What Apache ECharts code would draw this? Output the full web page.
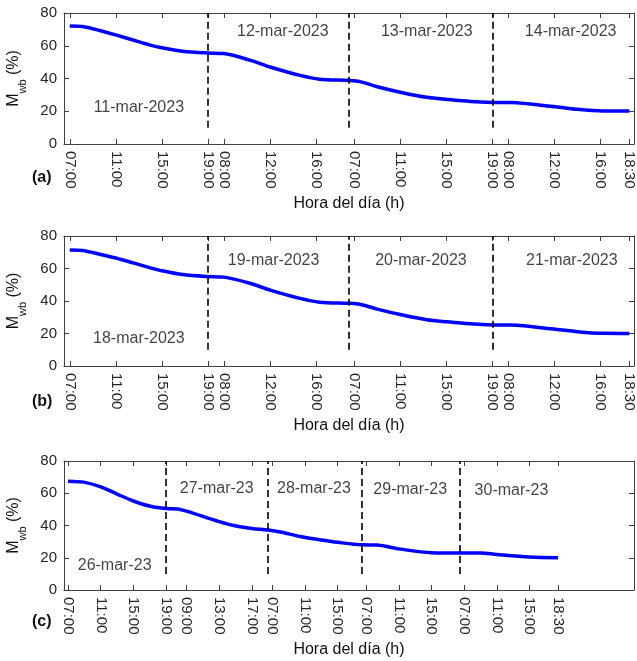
<!DOCTYPE html>
<html>
<head>
<meta charset="utf-8">
<script src="https://cdn.jsdelivr.net/npm/echarts@6/dist/echarts.min.js"></script>
<style>
  html, body { margin: 0; padding: 0; background: #fff; }
  #chart { width: 637px; height: 661px; }
</style>
</head>
<body>
<div id="chart"></div>
<script>
// x is "plot hours" from 07:00 of the first day, nights squeezed out
const tA = [0, 1.1, 2.6, 4, 5.5, 7, 8, 9.8, 11.9, 13.4, 15.7, 17.4, 20, 21.7, 24.3, 25.2, 26.7, 28.8, 31, 32.8, 34.8, 36.8, 38.3, 42.2, 44.1, 46.3, 48.6]
const mA = [72, 71.7, 69.3, 66.6, 63.5, 60.4, 58.8, 56.7, 55.6, 55.2, 51.1, 47, 41.9, 39.6, 38.8, 38.1, 35, 31.5, 28.5, 27.2, 26, 25.4, 25.3, 22.7, 21.2, 20.2, 20.1]
const tB = [0, 1.1, 2.6, 4, 5.5, 7, 8, 9.8, 11.9, 13.4, 15.7, 17.4, 20, 21.7, 24.3, 25.2, 26.7, 28.8, 31, 32.8, 34.8, 36.8, 38.3, 42.2, 44.1, 46.3, 48.6]
const mB = [71.4, 71.1, 68.8, 66.5, 63.5, 60.4, 58.6, 56.3, 55.1, 54.7, 50.8, 46.7, 41.6, 39.3, 38.6, 38, 35, 31.5, 28.5, 27.2, 26, 25.3, 25.2, 22.6, 21.1, 20.1, 20]
const tC = [0, 1.9, 4, 6, 8, 10.1, 12, 13.4, 14.6, 18.4, 20.3, 22.5, 24.5, 26, 28.4, 30.8, 33, 36, 37.8, 40.5, 44.5, 48, 50.5, 52.5, 56.5, 60]
const mC = [67.5, 66.9, 64, 59.5, 55.2, 51.9, 50.5, 50.3, 48.8, 42.6, 40, 38.2, 37.2, 36, 33.2, 31.2, 29.6, 28, 27.9, 25.5, 23.1, 22.9, 23, 22, 20.4, 20]

const ticksA = [0, 4, 8, 12, 13.4, 17.4, 21.4, 24.7, 28.7, 32.7, 36.7, 38.1, 42.1, 46.1, 48.6]
const labelsA = ['07:00', '11:00', '15:00', '19:00', '08:00', '12:00', '16:00', '07:00', '11:00', '15:00', '19:00', '08:00', '12:00', '16:00', '18:30']
const ticksC = [0, 4, 8, 12, 14.5, 18.5, 22.5, 25, 29, 33, 36.5, 40.5, 44.5, 48.5, 52.5, 56.5, 60]
const labelsC = ['07:00', '11:00', '15:00', '19:00', '09:00', '13:00', '17:00', '07:00', '11:00', '15:00', '07:00', '11:00', '15:00', '07:00', '11:00', '15:00', '18:30']

const dayEndsA = [12, 24.2, 36.7]
const dayEndsC = [12, 24.5, 36, 48]

const daysA = [['11-mar-2023', 6, 22], ['12-mar-2023', 18.5, 68.5], ['13-mar-2023', 31, 68.5], ['14-mar-2023', 43.5, 68.5]]
const daysB = [['18-mar-2023', 6, 17], ['19-mar-2023', 17.7, 65], ['20-mar-2023', 30.5, 65], ['21-mar-2023', 43.6, 65]]
const daysC = [['26-mar-23', 5.7, 15], ['27-mar-23', 18.2, 62.6], ['28-mar-23', 30.1, 62.6], ['29-mar-23', 41.9, 62.4], ['30-mar-23', 54.3, 61.6]]

const FONT = 'Liberation Sans, Arial, Helvetica, sans-serif'
const AXIS = '#404040'

function nearest(arr, v) {
  let best = 0
  arr.forEach((a, i) => { if (Math.abs(a - v) < Math.abs(arr[best] - v)) best = i })
  return best
}

function xAxes(i, ticks, labels, max) {
  const common = {
    type: 'value',
    gridIndex: i,
    min: -0.5,
    max: max,
    axisLine: { show: true, onZero: false, lineStyle: { color: AXIS, width: 1 } },
    axisTick: { show: true, inside: true, length: 5, customValues: ticks, lineStyle: { color: AXIS } },
    splitLine: { show: false }
  }
  return [
    Object.assign({}, common, {
      position: 'bottom',
      name: 'Hora del día (h)',
      nameLocation: 'middle',
      nameGap: 52,
      nameTextStyle: { fontSize: 16, color: '#111', fontFamily: FONT },
      axisLabel: {
        customValues: ticks,
        rotate: -90,
        margin: 7,
        hideOverlap: false,
        fontSize: 15,
        color: '#262626',
        fontFamily: FONT,
        formatter: v => labels[nearest(ticks, v)]
      }
    }),
    Object.assign({}, common, { position: 'top', axisLabel: { show: false } })
  ]
}

function yAxes(i) {
  const common = {
    type: 'value',
    gridIndex: i,
    min: 0,
    max: 80,
    interval: 20,
    axisLine: { show: true, onZero: false, lineStyle: { color: AXIS, width: 1 } },
    axisTick: { show: true, inside: true, length: 5, lineStyle: { color: AXIS } },
    splitLine: { show: false }
  }
  return [
    Object.assign({}, common, {
      position: 'left',
      name: '{m|M}{s|wb}{m| (%)}',
      nameLocation: 'middle',
      nameRotate: 90,
      nameGap: 36,
      nameTextStyle: {
        rich: {
          m: { fontSize: 16, color: '#111', fontFamily: FONT, lineHeight: 22, verticalAlign: 'top' },
          s: { fontSize: 11, color: '#111', fontFamily: FONT, lineHeight: 12, verticalAlign: 'bottom' }
        }
      },
      axisLabel: { margin: 7, fontSize: 15, color: '#262626', fontFamily: FONT }
    }),
    Object.assign({}, common, { position: 'right', axisLabel: { show: false } })
  ]
}

function panelSeries(i, t, m, dayEnds, days) {
  return [
    {
      type: 'line',
      xAxisIndex: 2 * i,
      yAxisIndex: 2 * i,
      data: t.map((x, k) => [x, m[k]]),
      smooth: 0.3,
      showSymbol: false,
      symbol: 'none',
      lineStyle: { color: '#0000ff', width: 3.5 },
      z: 3,
      silent: true,
      markLine: {
        silent: true,
        symbol: 'none',
        label: { show: false },
        lineStyle: { color: '#000', type: [7, 4], width: 1.6 },
        data: dayEnds.map(x => [{ coord: [x, 10] }, { coord: [x, 80] }])
      }
    },
    {
      type: 'scatter',
      xAxisIndex: 2 * i,
      yAxisIndex: 2 * i,
      symbolSize: 0,
      silent: true,
      data: days.map(d => ({ name: d[0], value: [d[1], d[2]] })),
      label: { show: true, position: 'inside', formatter: '{b}', fontSize: 16, color: '#111', fontFamily: FONT }
    }
  ]
}

const option = {
  animation: false,
  backgroundColor: '#fff',
  textStyle: { fontFamily: FONT },
  title: ['(a)', '(b)', '(c)'].map((s, i) => ({
    text: s,
    left: 32,
    top: [170, 394, 614][i],
    padding: 0,
    textStyle: { fontSize: 16, fontWeight: 'bold', color: '#111', fontFamily: FONT }
  })),
  grid: [
    { left: 64, right: 3, top: 13, height: 131, outerBoundsMode: 'none' },
    { left: 64, right: 3, top: 236, height: 130, outerBoundsMode: 'none' },
    { left: 64, right: 3, top: 461, height: 129, outerBoundsMode: 'none' }
  ],
  xAxis: [].concat(xAxes(0, ticksA, labelsA, 49), xAxes(1, ticksA, labelsA, 49), xAxes(2, ticksC, labelsC, 69.3)),
  yAxis: [].concat(yAxes(0), yAxes(1), yAxes(2)),
  series: [].concat(
    panelSeries(0, tA, mA, dayEndsA, daysA),
    panelSeries(1, tB, mB, dayEndsA, daysB),
    panelSeries(2, tC, mC, dayEndsC, daysC)
  )
}

const chart = echarts.init(document.getElementById('chart'))
chart.setOption(option)
</script>
</body>
</html>
